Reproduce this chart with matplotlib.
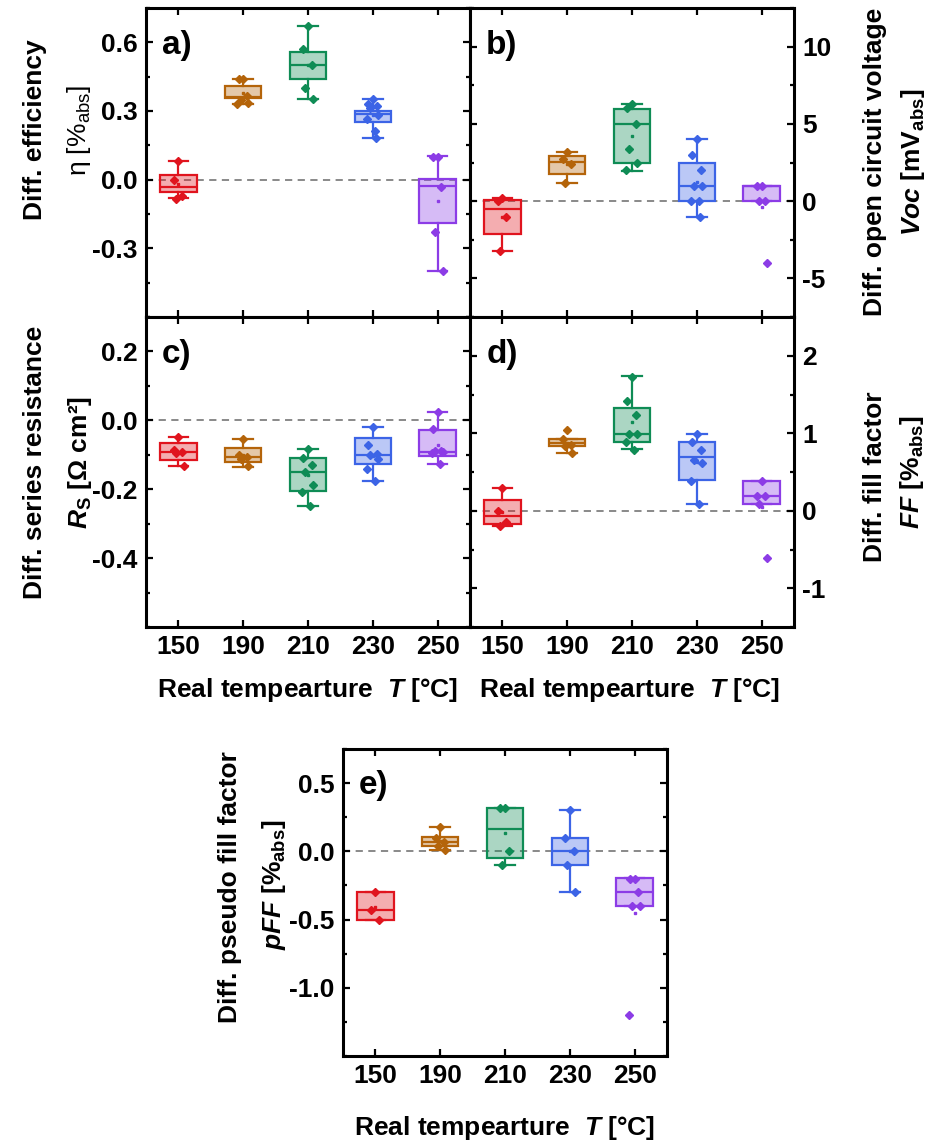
import numpy as np
import matplotlib
matplotlib.use('Agg')
import matplotlib.pyplot as plt
from matplotlib.ticker import MultipleLocator, FixedLocator
from matplotlib.colors import to_rgba

plt.rcParams['font.family'] = ['Liberation Sans', 'DejaVu Sans']
plt.rcParams['font.weight'] = 'bold'
plt.rcParams['axes.unicode_minus'] = False
plt.rcParams['mathtext.fontset'] = 'custom'
plt.rcParams['mathtext.it'] = 'Liberation Sans:italic:bold'
plt.rcParams['mathtext.rm'] = 'Liberation Sans:bold'
plt.rcParams['mathtext.bf'] = 'Liberation Sans:bold'

# ---------------- data ----------------
temps = ['150', '190', '210', '230', '250']
colors = ['#e0141e', '#b4640a', '#0f8c55', '#3c64e6', '#8c3ce6']

# a) efficiency
eta_pts = [[0.08, 0.0, -0.073, -0.083],
           [0.44, 0.44, 0.365, 0.35, 0.335, 0.33],
           [0.673, 0.571, 0.499, 0.40, 0.352],
           [0.352, 0.332, 0.32, 0.313, 0.284, 0.265, 0.211, 0.18],
           [0.10, 0.10, -0.03, -0.23, -0.40]]
eta_q1 = [-0.055, 0.357, 0.440, 0.250, -0.189]
eta_med = [-0.034, 0.362, 0.499, 0.287, -0.029]
eta_q3 = [0.022, 0.408, 0.556, 0.298, 0.003]
eta_lo = [-0.080, 0.331, 0.352, 0.180, -0.40]
eta_hi = [0.082, 0.441, 0.673, 0.352, 0.102]

# b) Voc
voc_pts = [[0.2, 0.0, -1.0, -3.2],
           [3.2, 2.7, 2.4, 1.2],
           [6.3, 6.0, 5.0, 3.4, 2.5, 2.0],
           [4, 3, 2, 1, 1, 0, 0, -1],
           [1, 1, 0, 0, -4]]
voc_q1 = [-2.13, 1.77, 2.46, 0.0, 0.0]
voc_med = [-0.52, 2.52, 4.98, 0.99, 1.0]
voc_q3 = [0.06, 2.93, 5.97, 2.46, 1.0]
voc_lo = [-3.21, 1.18, 1.98, -1.03, 0.0]
voc_hi = [0.19, 3.19, 6.27, 3.99, 1.0]

# c) Rs
rs_pts = [[-0.047, -0.085, -0.092, -0.096, -0.133],
          [-0.054, -0.101, -0.106, -0.111, -0.133],
          [-0.083, -0.109, -0.130, -0.150, -0.188, -0.207, -0.248],
          [-0.02, -0.072, -0.099, -0.1, -0.113, -0.140, -0.177],
          [0.024, -0.026, -0.088, -0.09, -0.093, -0.095, -0.128]]
rs_q1 = [-0.116, -0.122, -0.205, -0.126, -0.103]
rs_med = [-0.092, -0.106, -0.150, -0.102, -0.093]
rs_q3 = [-0.066, -0.080, -0.109, -0.050, -0.027]
rs_lo = [-0.133, -0.135, -0.248, -0.177, -0.128]
rs_hi = [-0.047, -0.054, -0.083, -0.019, 0.024]

# d) FF
ff_pts = [[0.29, 0.0, -0.14, -0.2],
          [1.04, 0.92, 0.85, 0.83, 0.75],
          [1.73, 1.41, 1.24, 0.99, 0.99, 0.89, 0.79],
          [0.99, 0.89, 0.79, 0.66, 0.62, 0.39, 0.09],
          [0.39, 0.19, 0.19, 0.09, -0.61]]
ff_q1 = [-0.172, 0.841, 0.893, 0.392, 0.087]
ff_med = [-0.069, 0.88, 0.992, 0.690, 0.194]
ff_q3 = [0.142, 0.923, 1.323, 0.893, 0.39]
ff_lo = [-0.203, 0.746, 0.793, 0.091, 0.087]
ff_hi = [0.293, 0.923, 1.733, 0.992, 0.39]

# e) pFF
pff_pts = [[-0.3, -0.43, -0.5],
           [0.18, 0.1, 0.07, 0.036, 0.007],
           [0.32, 0.32, 0.0, -0.1],
           [0.3, 0.1, 0.0, -0.1, -0.3],
           [-0.2, -0.2, -0.3, -0.4, -0.4, -1.2]]
pff_q1 = [-0.504, 0.036, -0.048, -0.102, -0.401]
pff_med = [-0.431, 0.068, 0.163, 0.0, -0.299]
pff_q3 = [-0.299, 0.102, 0.321, 0.1, -0.199]
pff_lo = [-0.504, 0.007, -0.102, -0.301, -0.401]
pff_hi = [-0.299, 0.182, 0.321, 0.302, -0.199]

# ---------------- layout ----------------
W, H = 928, 1144
fig = plt.figure(figsize=(W / 100, H / 100), dpi=100)

def axes_px(x0, y0, x1, y1):
    return fig.add_axes([x0 / W, 1 - y1 / H, (x1 - x0) / W, (y1 - y0) / H])

def ftext(x, y, s, **kw):
    fig.text(x / W, 1 - y / H, s, **kw)

JITTER = [0.0, -0.07, 0.06, -0.04, 0.08, -0.09, 0.03, 0.05]
FS = 19

def panel(ax, pts, q1, med, q3, lo, hi, ylim, major, minor, yticks, yfmt,
          letter, right=False, xlabels=False):
    ax.axhline(0, color='#808080', ls=(0, (4, 3)), lw=1.3, zorder=1)
    for i in range(len(temps)):
        c = colors[i]
        stats = [dict(q1=q1[i], med=med[i], q3=q3[i], whislo=lo[i],
                      whishi=hi[i], fliers=[])]
        ax.bxp(stats, positions=[i], widths=0.56, capwidths=0.3,
               patch_artist=True, showfliers=False,
               boxprops=dict(facecolor=to_rgba(c, 0.35), edgecolor=c, lw=1.6),
               medianprops=dict(color=c, lw=1.6),
               whiskerprops=dict(color=c, lw=1.6),
               capprops=dict(color=c, lw=1.6), zorder=2)
        p = pts[i]
        xs = [i + JITTER[k % len(JITTER)] for k in range(len(p))]
        ax.plot(xs, p, ls='none', marker='D', ms=4.5, color=c, zorder=4)
        ax.plot([i], [np.mean(p)], ls='none', marker='s', ms=2, color=c, zorder=4)
    ax.set_xlim(-0.5, 4.5)
    ax.set_ylim(*ylim)
    ax.yaxis.set_major_locator(FixedLocator(yticks))
    ax.yaxis.set_minor_locator(MultipleLocator(minor))
    ax.set_yticklabels([yfmt.format(v) for v in yticks])
    ax.set_xticks(range(len(temps)))
    ax.set_xticklabels(temps if xlabels else [])
    ax.tick_params(which='both', direction='in', top=True, bottom=True,
                   left=True, right=True, width=1.6, labelsize=FS, pad=6)
    ax.tick_params(which='major', length=5)
    ax.tick_params(which='minor', length=3)
    ax.tick_params(axis='x', which='minor', bottom=False, top=False)
    if right:
        ax.tick_params(axis='y', labelleft=False, labelright=True)
    for s in ax.spines.values():
        s.set_linewidth(2.2)
    ax.text(0.05, 0.93, letter, transform=ax.transAxes, fontsize=24,
            fontweight='bold', va='top', ha='left')

ax_a = axes_px(146, 8, 470, 317)
ax_b = axes_px(470, 8, 794, 317)
ax_c = axes_px(146, 317, 470, 627)
ax_d = axes_px(470, 317, 794, 627)
ax_e = axes_px(343, 749, 667, 1056)

panel(ax_a, eta_pts, eta_q1, eta_med, eta_q3, eta_lo, eta_hi, (-0.6, 0.75),
      0.3, 0.15, [-0.3, 0.0, 0.3, 0.6], '{:.1f}', 'a)')
panel(ax_b, voc_pts, voc_q1, voc_med, voc_q3, voc_lo, voc_hi, (-7.5, 12.5),
      5, 2.5, [-5, 0, 5, 10], '{:.0f}', 'b)', right=True)
panel(ax_c, rs_pts, rs_q1, rs_med, rs_q3, rs_lo, rs_hi, (-0.6, 0.3),
      0.2, 0.1, [-0.4, -0.2, 0.0, 0.2], '{:.1f}', 'c)', xlabels=True)
panel(ax_d, ff_pts, ff_q1, ff_med, ff_q3, ff_lo, ff_hi, (-1.5, 2.5),
      1, 0.5, [-1, 0, 1, 2], '{:.0f}', 'd)', right=True, xlabels=True)
panel(ax_e, pff_pts, pff_q1, pff_med, pff_q3, pff_lo, pff_hi, (-1.5, 0.75),
      0.5, 0.25, [-1.0, -0.5, 0.0, 0.5], '{:.1f}', 'e)', xlabels=True)

# axis titles
lab = dict(rotation=90, ha='center', va='center', fontsize=FS, fontweight='bold')
ftext(35, 130, 'Diff. efficiency', **lab)
ftext(79, 131, 'η [%$_\\mathregular{abs}$]', rotation=90, ha='center', va='center',
      fontsize=FS, fontweight='normal')
ftext(35, 462, 'Diff. series resistance', **lab)
ftext(80, 462, '$R$$_\\mathregular{S}$ [Ω cm²]', **lab)
ftext(875, 162, 'Diff. open circuit voltage', **lab)
ftext(913, 162, '$Voc$ [mV$_\\mathregular{abs}$]', **lab)
ftext(875, 477, 'Diff. fill factor', **lab)
ftext(912, 472, '$FF$ [%$_\\mathregular{abs}$]', **lab)
ftext(230, 887, 'Diff. pseudo fill factor', **lab)
ftext(274, 885, '$pFF$ [%$_\\mathregular{abs}$]', **lab)

xl = dict(ha='center', va='center', fontsize=FS, fontweight='bold')
ftext(308, 690, 'Real tempearture  $T$ [°C]', **xl)
ftext(630, 690, 'Real tempearture  $T$ [°C]', **xl)
ftext(505, 1128, 'Real tempearture  $T$ [°C]', **xl)

fig.savefig('out.png', dpi=100)
